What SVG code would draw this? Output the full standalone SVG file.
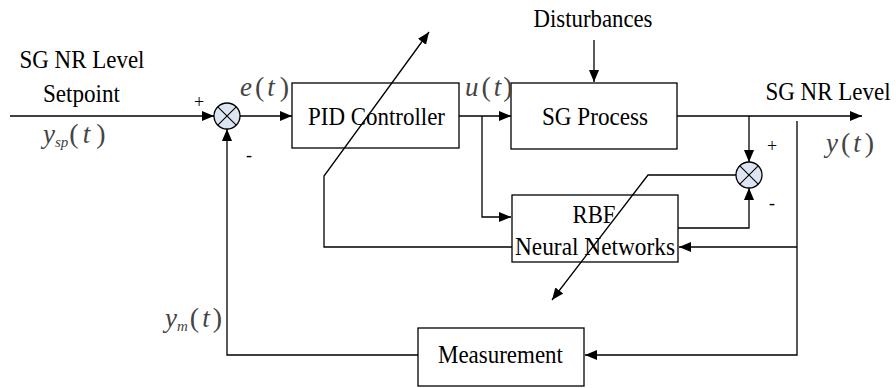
<svg xmlns="http://www.w3.org/2000/svg" width="896" height="388" viewBox="0 0 896 388">
<defs>
<marker id="ah" viewBox="0 0 10 10" refX="10" refY="5" markerWidth="12" markerHeight="12" markerUnits="userSpaceOnUse" orient="auto">
<path d="M0,0.8 L10,5 L0,9.2 Z" fill="#000"/>
</marker>
<style>
.box{fill:#fff;stroke:#000;stroke-width:1.3}
.sum{fill:#dde5f2;stroke:#000;stroke-width:1.3}
.x{stroke:#000;stroke-width:1.1}
.arr{fill:none;stroke:#000;stroke-width:1.3;marker-end:url(#ah)}
text{font-family:'Liberation Serif','Times New Roman',serif}
.t{font-size:26px;fill:#000;text-anchor:middle}
.sg{font-size:18px;fill:#000;text-anchor:middle}
.m{font-size:27px;fill:#444}
.i{font-style:italic}
.p{font-size:28px}
.sub{font-size:15px;font-style:italic}
</style>
</defs>
<g id="sum1">
<circle class="sum" cx="227" cy="116" r="13"/>
<path class="x" d="M217.8,106.8 L236.2,125.2 M236.2,106.8 L217.8,125.2"/>
<text class="sg" x="199" y="108">+</text>
<text class="sg" x="249" y="161">-</text>
</g>
<g id="sum2">
<circle class="sum" cx="749" cy="175" r="13"/>
<path class="x" d="M739.8,165.8 L758.2,184.2 M758.2,165.8 L739.8,184.2"/>
<text class="sg" x="772" y="152">+</text>
<text class="sg" x="772" y="209">-</text>
</g>
<g id="pid">
<rect class="box" x="292" y="83" width="167" height="65"/>
<text class="t" x="376.5" y="125" textLength="137" lengthAdjust="spacingAndGlyphs">PID Controller</text>
</g>
<g id="process">
<rect class="box" x="511" y="83" width="166" height="66"/>
<text class="t" x="595" y="125" textLength="106" lengthAdjust="spacingAndGlyphs">SG Process</text>
</g>
<g id="rbf">
<rect class="box" x="512" y="195" width="166" height="67"/>
<text class="t" x="594" y="223" textLength="43" lengthAdjust="spacingAndGlyphs">RBF</text>
<text class="t" x="595" y="255" textLength="160" lengthAdjust="spacingAndGlyphs">Neural Networks</text>
</g>
<g id="measurement">
<rect class="box" x="418" y="328" width="166" height="58"/>
<text class="t" x="500.5" y="363" textLength="125" lengthAdjust="spacingAndGlyphs">Measurement</text>
</g>
<g id="labels">
<text class="t" x="593" y="27" textLength="119" lengthAdjust="spacingAndGlyphs">Disturbances</text>
<text class="t" x="82" y="68" textLength="125" lengthAdjust="spacingAndGlyphs">SG NR Level</text>
<text class="t" x="81.5" y="102" textLength="77" lengthAdjust="spacingAndGlyphs">Setpoint</text>
<text class="t" x="0" y="0" style="font-size:23px" transform="translate(828,100) scale(1,1.13)">SG NR Level</text>
<text class="m" x="240" y="96"><tspan class="i">e</tspan><tspan class="p" dx="3">(</tspan><tspan class="i" dx="3">t</tspan><tspan class="p" dx="5">)</tspan></text>
<text class="m" x="465" y="96"><tspan class="i">u</tspan><tspan class="p" dx="3">(</tspan><tspan class="i" dx="3">t</tspan><tspan class="p" dx="2">)</tspan></text>
<text class="m" x="826" y="152"><tspan class="i">y</tspan><tspan class="p" dx="3">(</tspan><tspan class="i" dx="3">t</tspan><tspan class="p" dx="4">)</tspan></text>
<text class="m" x="43" y="143"><tspan class="i">y</tspan><tspan class="sub" dy="4">sp</tspan><tspan class="p" dx="1" dy="-4">(</tspan><tspan class="i" dx="4">t</tspan><tspan class="p" dx="6">)</tspan></text>
<text class="m" x="165" y="327"><tspan class="i">y</tspan><tspan class="sub" dy="4">m</tspan><tspan class="p" dx="2" dy="-4">(</tspan><tspan class="i" dx="3">t</tspan><tspan class="p" dx="3">)</tspan></text>
</g>
<g id="connectors">
<path class="arr" d="M10,116 H214"/>
<path class="arr" d="M240,116 H292"/>
<path class="arr" d="M459,116 H511"/>
<path class="arr" d="M482,116 V217 H511"/>
<path class="arr" d="M594,40 V82"/>
<path class="arr" d="M677,116 H862"/>
<path class="arr" d="M749,116 V162"/>
<path class="arr" d="M678,228 H749 V188"/>
<path class="arr" d="M797,121 V355 H585"/>
<path class="arr" d="M797,247 H679"/>
<path class="arr" d="M418,355 H227 V129"/>
<path class="arr" d="M512,247 H324 V176 L429,32"/>
<path class="arr" d="M736,175 H648 L552,300"/>
</g>
</svg>
